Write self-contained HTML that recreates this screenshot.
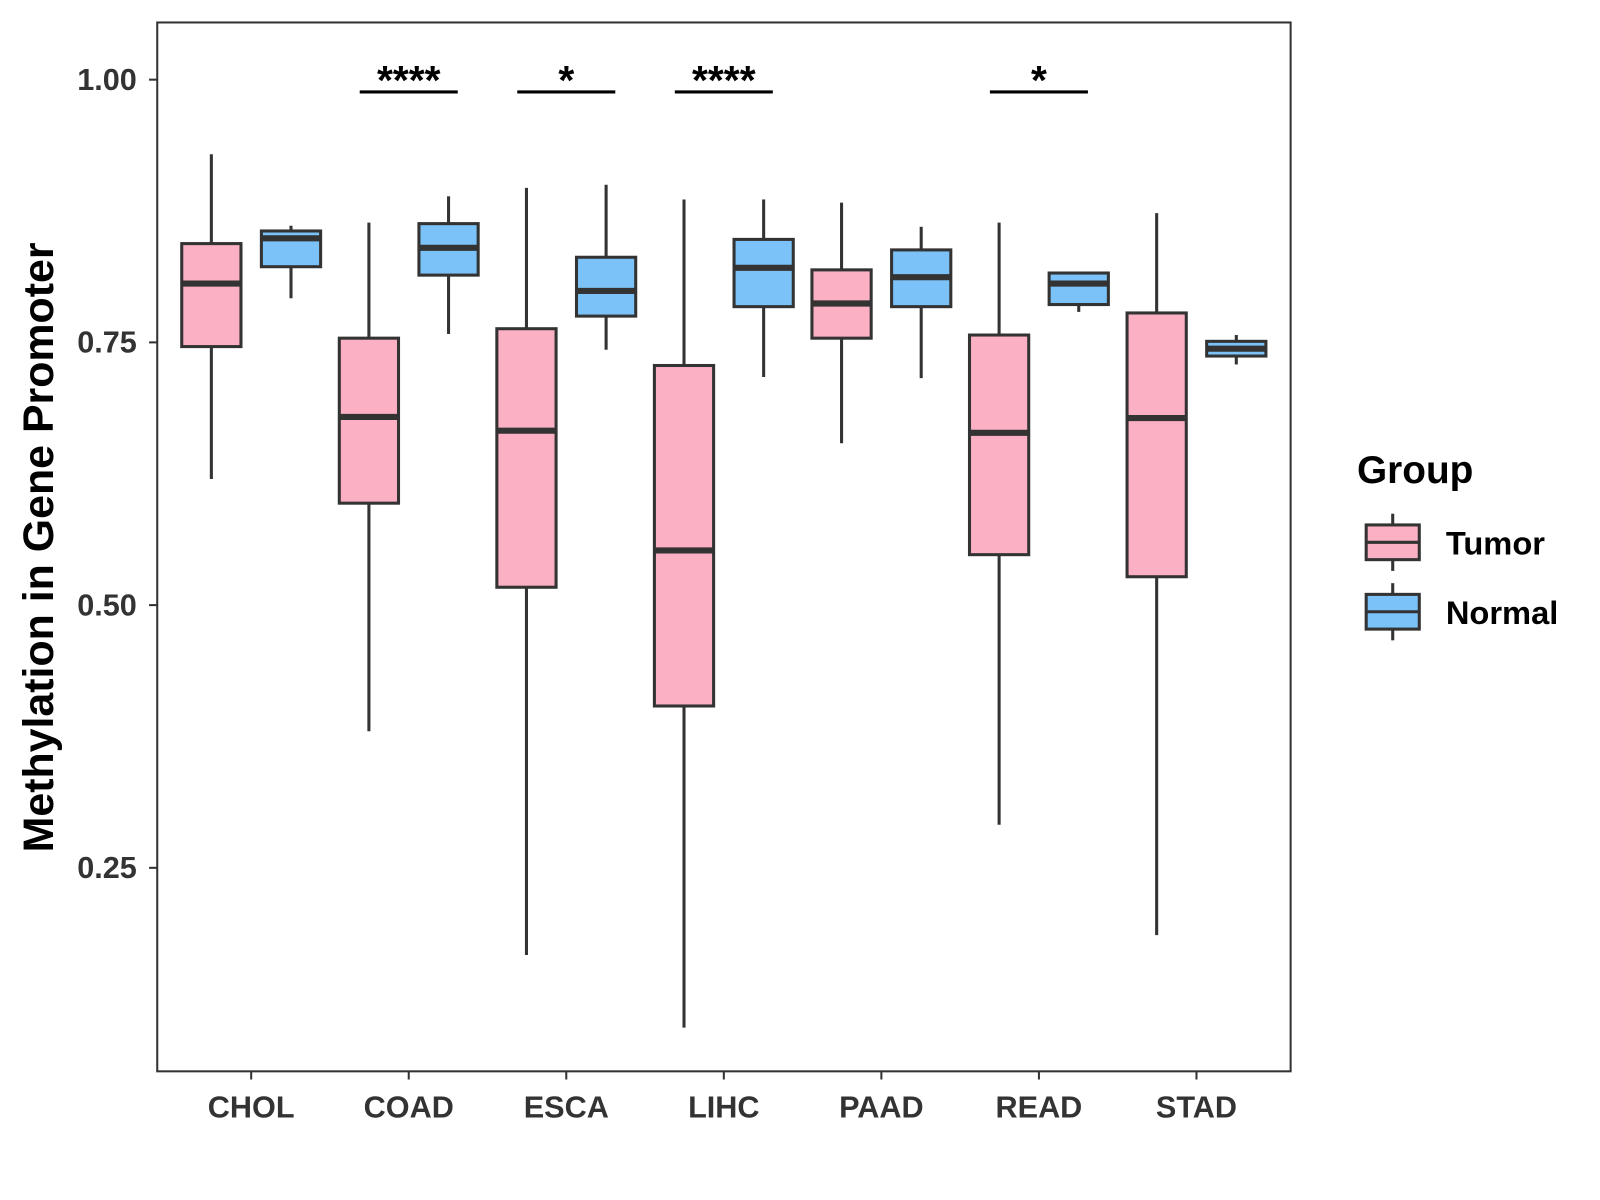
<!DOCTYPE html>
<html><head><meta charset="utf-8"><style>
html,body{margin:0;padding:0;background:#fff;}
svg{display:block;font-family:"Liberation Sans",Arial,sans-serif;}
</style></head><body>
<svg id="chart" width="1600" height="1200" viewBox="0 0 1567 1175" preserveAspectRatio="none">
<rect x="0" y="0" width="1567" height="1175" fill="#fff"/>
<g id="marks"></g>
<rect x="154" y="22" width="1110" height="1027" fill="none" stroke="#333" stroke-width="2"/>
<g id="axes"></g>
<text x="52" y="536" transform="rotate(-90 52 536)" text-anchor="middle" font-size="42" font-weight="bold" fill="#000">Methylation in Gene Promoter</text>
<g>
<text x="1329" y="473" font-size="38" font-weight="bold" fill="#000">Group</text>
<g>
<line x1="1364" y1="503" x2="1364" y2="514" stroke="#333" stroke-width="3"/>
<line x1="1364" y1="548" x2="1364" y2="559" stroke="#333" stroke-width="3"/>
<rect x="1338" y="514" width="52" height="34" fill="#FBB1C3" stroke="#333" stroke-width="3"/>
<line x1="1338" y1="531" x2="1390" y2="531" stroke="#333" stroke-width="3"/>
<text x="1416" y="543" font-size="32" font-weight="bold" fill="#000">Tumor</text>
</g>
<g>
<line x1="1364" y1="571" x2="1364" y2="582" stroke="#333" stroke-width="3"/>
<line x1="1364" y1="616" x2="1364" y2="627" stroke="#333" stroke-width="3"/>
<rect x="1338" y="582" width="52" height="34" fill="#7AC2F7" stroke="#333" stroke-width="3"/>
<line x1="1338" y1="599" x2="1390" y2="599" stroke="#333" stroke-width="3"/>
<text x="1416" y="611" font-size="32" font-weight="bold" fill="#000">Normal</text>
</g>
</g>
</svg>
<script>
const categories = ["CHOL","COAD","ESCA","LIHC","PAAD","READ","STAD"];
// [low whisker, q1, median, q3, high whisker]
const tumorStats = [
 [0.620,0.746,0.806,0.844,0.929],
 [0.380,0.597,0.679,0.754,0.864],
 [0.167,0.517,0.666,0.763,0.897],
 [0.098,0.404,0.552,0.728,0.886],
 [0.654,0.754,0.787,0.819,0.883],
 [0.291,0.548,0.664,0.757,0.864],
 [0.186,0.527,0.678,0.778,0.873]
];
const normalStats = [
 [0.792,0.822,0.849,0.856,0.861],
 [0.758,0.814,0.840,0.863,0.889],
 [0.743,0.775,0.799,0.831,0.900],
 [0.717,0.784,0.821,0.848,0.886],
 [0.716,0.784,0.812,0.838,0.860],
 [0.779,0.786,0.806,0.816,0.817],
 [0.729,0.737,0.744,0.751,0.757]
];
const significance = ["","****","*","****","","*",""];
const yTicks = [0.25,0.50,0.75,1.00];
const yTickLabels = ["0.25","0.50","0.75","1.00"];

const NS="http://www.w3.org/2000/svg";
function yScale(v){return 78+(1-v)*1029;}
function xScale(i){return 246+i*154.3;}
function mk(tag,attrs,parent){const e=document.createElementNS(NS,tag);for(const k in attrs)e.setAttribute(k,attrs[k]);parent.appendChild(e);return e;}
const marks=document.getElementById('marks'), axes=document.getElementById('axes');
const hw=29;
function drawBox(s,cx,fill,name){
 const g=mk('g',{},marks);
 
 
 mk('line',{x1:cx,x2:cx,y1:yScale(s[4]),y2:yScale(s[3]),stroke:'#333','stroke-width':3},g);
 mk('line',{x1:cx,x2:cx,y1:yScale(s[1]),y2:yScale(s[0]),stroke:'#333','stroke-width':3},g);
 mk('rect',{x:cx-hw,y:yScale(s[3]),width:2*hw,height:yScale(s[1])-yScale(s[3]),fill:fill,stroke:'#333','stroke-width':3},g);
 mk('line',{x1:cx-hw,x2:cx+hw,y1:yScale(s[2]),y2:yScale(s[2]),stroke:'#333','stroke-width':6},g);
}
categories.forEach((c,i)=>{
 const x=xScale(i);
 drawBox(tumorStats[i],x-39,'#FBB1C3','box-tumor-'+c.toLowerCase());
 drawBox(normalStats[i],x+39,'#7AC2F7','box-normal-'+c.toLowerCase());
 if(significance[i]){
  const g=mk('g',{},marks);
  
  
  mk('line',{x1:x-48,x2:x+48,y1:90,y2:90,stroke:'#000','stroke-width':3},g);
  const t=mk('text',{x:x,y:92,'text-anchor':'middle','font-size':40,'font-weight':'bold',fill:'#000'},g);
  t.textContent=significance[i];
 }
 mk('line',{x1:x,x2:x,y1:1049,y2:1057,stroke:'#333','stroke-width':2},axes);
 const t=mk('text',{x:x,y:1094,'text-anchor':'middle','font-size':30,'font-weight':'bold',fill:'#333'},axes);
 
 
 t.textContent=c;
});
yTicks.forEach((v,i)=>{
 const y=yScale(v);
 mk('line',{x1:146,x2:154,y1:y,y2:y,stroke:'#333','stroke-width':2},axes);
 const t=mk('text',{x:134,y:y+10,'text-anchor':'end','font-size':30,'font-weight':'bold',fill:'#333'},axes);
 
 
 t.textContent=yTickLabels[i];
});
</script>
</body></html>
